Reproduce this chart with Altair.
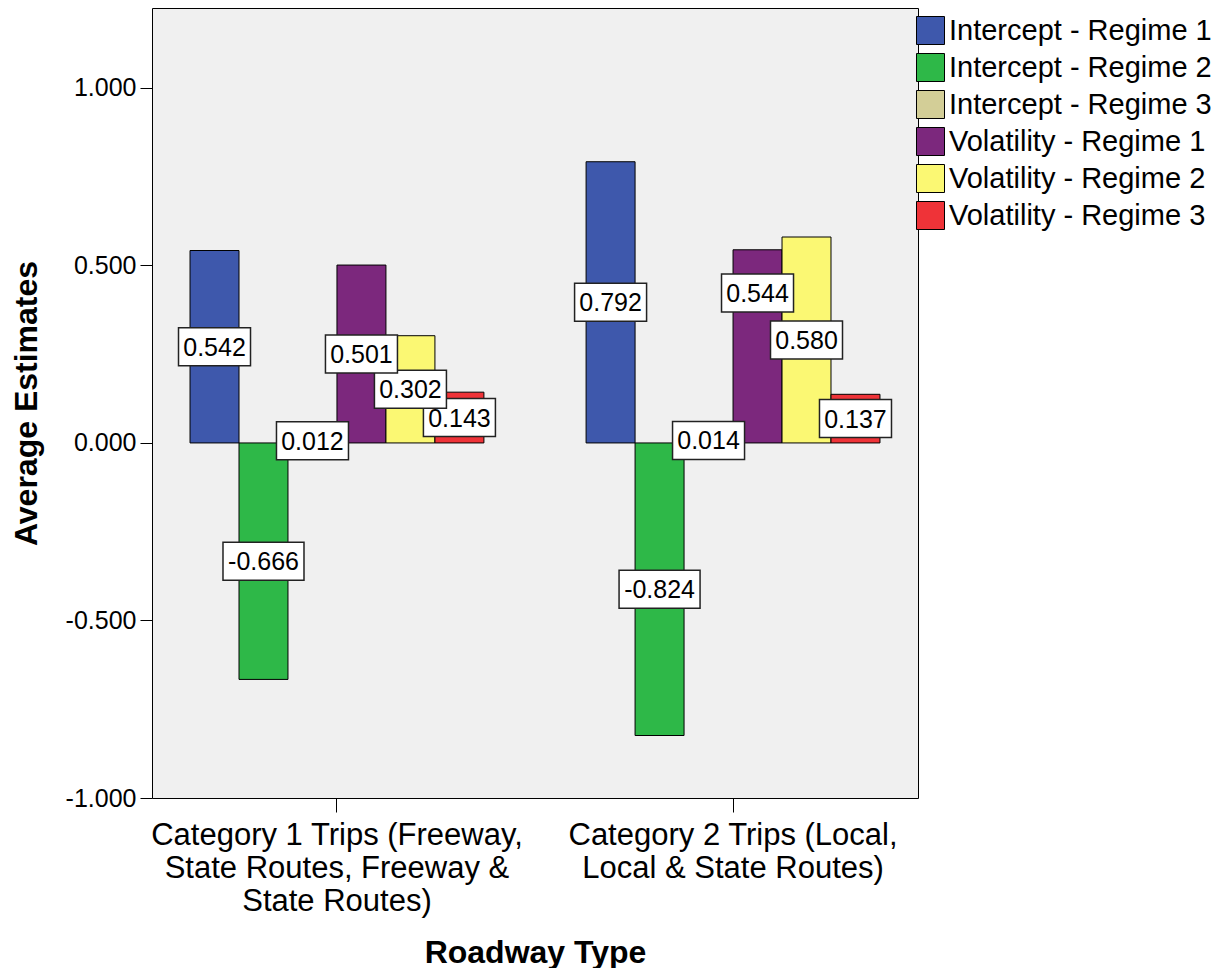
import altair as alt
import pandas as pd

CATEGORIES = [
    "Category 1 Trips (Freeway,\nState Routes, Freeway &\nState Routes)",
    "Category 2 Trips (Local,\nLocal & State Routes)",
]
SERIES = [
    "Intercept - Regime 1",
    "Intercept - Regime 2",
    "Intercept - Regime 3",
    "Volatility - Regime 1",
    "Volatility - Regime 2",
    "Volatility - Regime 3",
]
CAT1_VALUES = [0.542, -0.666, 0.012, 0.501, 0.302, 0.143]
CAT2_VALUES = [0.792, -0.824, 0.014, 0.544, 0.580, 0.137]
COLORS = ["#3E58AC", "#2EB848", "#D3CE97", "#7C287D", "#FBF873", "#EF3338"]
Y_TICKS = [-1.0, -0.5, 0.0, 0.5, 1.0]

FONT = "Liberation Sans"
Y_DOMAIN = [-1.0, 1.225]
PLOT_W, PLOT_H = 766, 790
BOX_H = 38
SHORT_BOX = "M-36,-19H36V19H-36Z"
LONG_BOX = "M-40.5,-19H40.5V19H-40.5Z"
PX_PER_UNIT = PLOT_H / (Y_DOMAIN[1] - Y_DOMAIN[0])


def label_positions(vals):
    # labels sit at the bar middle; a label that would sit on top of its
    # right-hand neighbour's label is lifted above it (as the original does)
    mids = [v / 2 for v in vals]
    for i in range(len(mids) - 2, -1, -1):
        if abs(mids[i] - mids[i + 1]) < 0.06:
            mids[i] = mids[i + 1] + (BOX_H + 9) / PX_PER_UNIT
    return mids


rows = []
for cat, vals in zip(CATEGORIES, [CAT1_VALUES, CAT2_VALUES]):
    mids = label_positions(vals)
    for i, (s, v) in enumerate(zip(SERIES, vals)):
        rows.append(
            {
                "category": cat,
                "series": s,
                "sidx": i,
                "value": v,
                "mid": mids[i],
                "label": f"{v:.3f}",
                "box": "long" if v < 0 else "short",
            }
        )
df = pd.DataFrame(rows)

x_enc = alt.X(
    "category:N",
    sort=CATEGORIES,
    scale=alt.Scale(paddingInner=0.258, paddingOuter=0.096),
    axis=alt.Axis(
        title="Roadway Type",
        labelExpr="split(datum.label, '\\n')",
        labelAngle=0,
        labelFontSize=31,
        labelLineHeight=33,
        labelPadding=8,
        labelColor="black",
        labelLimit=500,
        domain=False,
        ticks=True,
        tickSize=14,
        tickColor="black",
        tickWidth=1,
        grid=False,
        titleFontSize=32,
        titleFontWeight="bold",
        titleColor="black",
        titlePadding=21,
    ),
)
xoff_enc = alt.XOffset(
    "series:N", sort=SERIES, scale=alt.Scale(domain=SERIES, paddingInner=0, paddingOuter=0)
)
y_scale = alt.Scale(domain=Y_DOMAIN, nice=False, zero=True)

base = alt.Chart(df)

bars = base.mark_bar(stroke="black", strokeWidth=1).encode(
    x=x_enc,
    xOffset=xoff_enc,
    y=alt.Y(
        "value:Q",
        scale=y_scale,
        axis=alt.Axis(
            title="Average Estimates",
            values=Y_TICKS,
            labelExpr="replace(format(datum.value, '.3f'), '\u2212', '-')",
            labelFontSize=25,
            labelColor="black",
            labelPadding=4,
            domain=False,
            ticks=True,
            tickSize=12,
            tickColor="black",
            grid=False,
            titleFontSize=32,
            titleFontWeight="bold",
            titleColor="black",
            titlePadding=22,
        ),
    ),
    color=alt.Color(
        "series:N",
        sort=SERIES,
        scale=alt.Scale(domain=SERIES, range=COLORS),
        legend=alt.Legend(
            title=None,
            orient="none",
            legendX=PLOT_W - 2,
            legendY=8,
            padding=0,
            labelFontSize=29,
            labelColor="black",
            labelFont=FONT,
            labelLimit=400,
            symbolType="square",
            symbolSize=784,
            symbolStrokeColor="black",
            symbolStrokeWidth=1,
            symbolOpacity=1,
            rowPadding=4,
            labelOffset=4,
        ),
    ),
)

layers = [bars]
for i in reversed(range(len(SERIES))):
    sub = base.transform_filter(f"datum.sidx == {i}")
    box = sub.mark_point(
        filled=True, fill="white", stroke="#222222", strokeWidth=1.5, size=4, opacity=1
    ).encode(
        x=alt.X("category:N", sort=CATEGORIES),
        xOffset=xoff_enc,
        y=alt.Y("mid:Q", scale=y_scale),
        shape=alt.Shape(
            "box:N",
            scale=alt.Scale(domain=["short", "long"], range=[SHORT_BOX, LONG_BOX]),
            legend=None,
        ),
    )
    txt = sub.mark_text(
        font=FONT, fontSize=25, color="black", align="center", baseline="middle", dy=1
    ).encode(
        x=alt.X("category:N", sort=CATEGORIES),
        xOffset=xoff_enc,
        y=alt.Y("mid:Q", scale=y_scale),
        text="label:N",
    )
    layers += [box, txt]

chart = (
    alt.layer(*layers)
    .properties(
        width=PLOT_W,
        height=PLOT_H,
        padding={"left": 2, "top": 0, "right": 0, "bottom": 0},
        background="white",
    )
    .configure(font=FONT)
    .configure_view(fill="#F0F0F0", stroke="black", strokeWidth=1)
)

chart.save("out.html", embed_options={"renderer": "svg", "actions": False})
